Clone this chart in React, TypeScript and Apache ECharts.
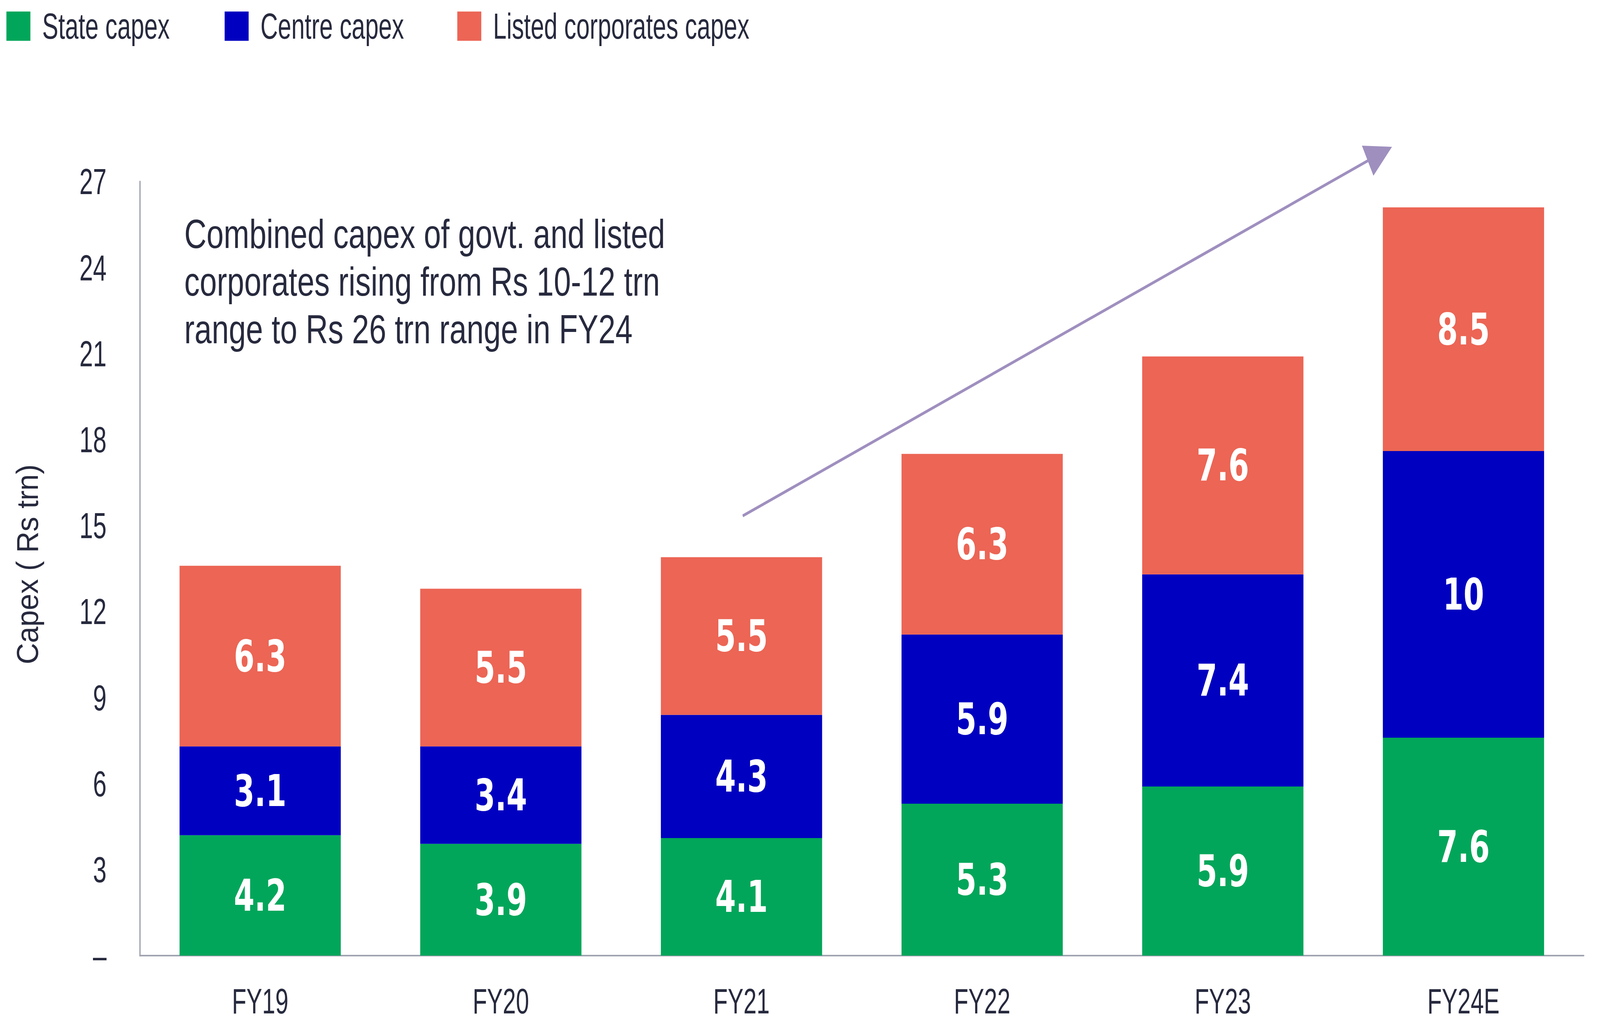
import React, { useEffect, useRef } from "react";
import * as echarts from "echarts";

const categories = ["FY19", "FY20", "FY21", "FY22", "FY23", "FY24E"];
const stateCapex = [4.2, 3.9, 4.1, 5.3, 5.9, 7.6];
const centreCapex = [3.1, 3.4, 4.3, 5.9, 7.4, 10];
const listedCapex = [6.3, 5.5, 5.5, 6.3, 7.6, 8.5];
const seriesNames = ["State capex", "Centre capex", "Listed corporates capex"];
const seriesColors = ["#02A65A", "#0000C0", "#EC6555"];
const annotationLines = [
  "Combined capex of govt. and listed",
  "corporates rising from Rs 10-12 trn",
  "range to Rs 26 trn range in FY24",
];
const yAxisTitle = "Capex ( Rs trn)";

const TEXT = "#272A3E";
const REG = "'Liberation Sans', Arial, sans-serif";
const BOLD = "'DejaVu Sans', 'Liberation Sans', sans-serif";
const AXIS = "#A0A3B1";
const ARROW = "#9F8FBF";

// reference canvas is 5000 x 2617; texts there are horizontally condensed,
// so the chart is laid out on a wider canvas and squeezed to fit.
const REF_W = 5000;
const REF_H = 2617;
const C = 0.82;
const IW = REF_W / C;
const IH = REF_H;

export default function App() {
  const outer = useRef<HTMLDivElement>(null);
  const inner = useRef<HTMLDivElement>(null);
  useEffect(() => {
    document.body.style.margin = "0";
    document.body.style.overflow = "hidden";
    if (!outer.current || !inner.current) return;
    const W = window.innerWidth;
    const H = window.innerHeight;
    outer.current.style.width = W + "px";
    outer.current.style.height = H + "px";
    inner.current.style.transform = `scale(${W / IW}, ${H / IH})`;
    const X = (v: number) => v / C;
    const chart = echarts.init(inner.current, null, { renderer: "svg" });
    const legendLefts = [20, 702, 1429];
    const dataSets = [stateCapex, centreCapex, listedCapex];
    const option: any = {
      animation: false,
      backgroundColor: "#ffffff",
      legend: seriesNames.map((n, i) => ({
        data: [n],
        left: X(legendLefts[i]),
        top: 21,
        padding: 0,
        itemWidth: X(75),
        itemHeight: 75,
        icon: "rect",
        selectedMode: false,
        textStyle: {
          fontFamily: REG,
          fontSize: 92,
          lineHeight: 75,
          color: TEXT,
          padding: [0, 0, 14, 40],
        },
      })),
      grid: { left: X(437), right: X(51), top: 465, bottom: 170 },
      xAxis: {
        type: "category",
        data: categories,
        axisLine: { show: true, lineStyle: { color: AXIS, width: 4 } },
        axisTick: { show: false },
        axisLabel: { fontFamily: REG, fontSize: 90, color: TEXT, margin: 72 },
      },
      yAxis: {
        type: "value",
        min: 0,
        max: 27,
        interval: 3,
        axisLine: { show: true, lineStyle: { color: AXIS, width: 5 } },
        axisTick: { show: false },
        splitLine: { show: false },
        axisLabel: {
          fontFamily: REG,
          fontSize: 93,
          color: TEXT,
          margin: X(104),
          formatter: (v: number) => (v === 0 ? "–" : String(v)),
        },
      },
      series: seriesNames.map((n, i) => ({
        name: n,
        type: "bar",
        stack: "total",
        barWidth: "67%",
        data: dataSets[i],
        itemStyle: { color: seriesColors[i] },
        label: {
          show: true,
          position: "inside",
          color: "#ffffff",
          fontFamily: BOLD,
          fontWeight: "bold",
          fontSize: 113,
          formatter: (p: any) => String(p.value),
        },
      })),
      graphic: [
        {
          type: "text",
          x: X(86),
          y: 1445,
          rotation: Math.PI / 2,
          scaleX: 0.651,
          style: {
            text: yAxisTitle,
            fontFamily: REG,
            fontSize: 116,
            fill: TEXT,
            align: "center",
            verticalAlign: "middle",
          },
        },
        ...annotationLines.map((t, i) => ({
          type: "text",
          x: X(576),
          y: 599 + i * 122,
          scaleX: 1.139,
          style: {
            text: t,
            fontFamily: REG,
            fontSize: 103,
            fill: TEXT,
            align: "left",
            verticalAlign: "middle",
          },
        })),
        {
          type: "line",
          shape: { x1: X(2321), y1: 1321, x2: X(4280), y2: 409 },
          style: { stroke: ARROW, lineWidth: 7.5 },
        },
        {
          type: "polygon",
          shape: {
            points: [
              [X(4350), 376],
              [X(4256), 373],
              [X(4292), 450],
            ],
          },
          style: { fill: ARROW },
        },
      ],
    };
    chart.setOption(option);
    return () => chart.dispose();
  }, []);
  return (
    <div ref={outer} style={{ width: REF_W, height: REF_H, overflow: "hidden", position: "relative" }}>
      <div
        ref={inner}
        style={{ width: IW, height: IH, transformOrigin: "0 0", position: "absolute", left: 0, top: 0 }}
      />
    </div>
  );
}
